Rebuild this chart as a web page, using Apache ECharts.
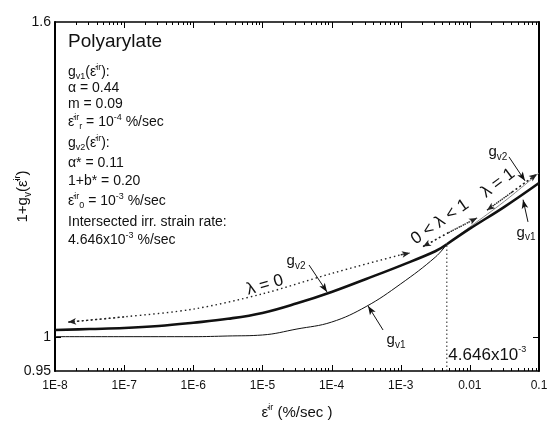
<!DOCTYPE html>
<html>
<head>
<meta charset="utf-8">
<script src="https://cdn.jsdelivr.net/npm/echarts@6/dist/echarts.min.js"></script>
<style>
  html, body { margin: 0; padding: 0; background: #fff; }
  #chart { width: 551px; height: 423px; }
</style>
</head>
<body>
<div id="chart"></div>
<script>
var FONT = '"Liberation Sans", Arial, sans-serif';

// axis ticks
var xDecades = [1e-8, 1e-7, 1e-6, 1e-5, 1e-4, 1e-3, 1e-2, 1e-1];
var xTickLabels = ['1E-8', '1E-7', '1E-6', '1E-5', '1E-4', '1E-3', '0.01', '0.1'];
var yTickValues = [0.95, 1, 1.6];
var yTickLabels = ['0.95', '1', '1.6'];
var yInnerTicks = [1];

// intersection of the two curves
var xCross = 4.646e-3;
var yCross = 1.148;

// g_v2, below the intersection (thick)
var gv2LowX = [1e-8, 3.16e-8, 1e-7, 3.16e-7, 1e-6, 3.16e-6, 1e-5, 3.16e-5, 1e-4, 3.16e-4, 1e-3, 3.16e-3, 4.646e-3];
var gv2LowY = [1.010, 1.0115, 1.013, 1.016, 1.021, 1.027, 1.036, 1.051, 1.069, 1.090, 1.112, 1.136, 1.148];
// g_v2, above the intersection (thin)
var gv2HighX = [4.646e-3, 1e-2, 3.16e-2, 1e-1];
var gv2HighY = [1.148, 1.178, 1.224, 1.277];

// g_v1, below the intersection (thin)
var gv1LowX = [1e-8, 1e-7, 1e-6, 3.16e-6, 1e-5, 3.16e-5, 1e-4, 3.16e-4, 1e-3, 3.16e-3, 4.646e-3];
var gv1LowY = [1.000, 1.000, 1.000, 1.001, 1.0025, 1.0115, 1.022, 1.046, 1.082, 1.126, 1.148];
// g_v1, above the intersection (thick)
var gv1HighX = [4.646e-3, 1e-2, 3.16e-2, 1e-1];
var gv1HighY = [1.148, 1.175, 1.214, 1.258];

// dotted lambda bands
var lam0X = [1.55e-8, 1e-7, 1e-6, 1e-5, 1e-4, 1e-3, 1.36e-3];
var lam0Y = [1.022, 1.030, 1.042, 1.066, 1.099, 1.130, 1.133];
var lam01X = [2.1e-3, 4.9e-3, 1.27e-2];
var lam01Y = [1.144, 1.168, 1.194];
var lam1X = [1.77e-2, 4.07e-2, 9.35e-2];
var lam1Y = [1.208, 1.241, 1.275];

function zip(xs, ys) {
    return xs.map(function (x, i) { return [x, ys[i]]; });
}

// log minor tick values 2..9 in each decade
var minorVals = [];
for (var d = -8; d <= -2; d++) {
    for (var k = 2; k <= 9; k++) minorVals.push(k * Math.pow(10, d));
}

var rich = {
    b: { fontSize: 14, fontFamily: FONT, color: '#111', lineHeight: 18 },
    sub: { fontSize: 9, fontFamily: FONT, color: '#111', lineHeight: 9, verticalAlign: 'bottom' },
    sup: { fontSize: 9, fontFamily: FONT, color: '#111', lineHeight: 9, verticalAlign: 'top' },
    big: { fontSize: 15, fontFamily: FONT, color: '#111', lineHeight: 20 },
    lam: { fontSize: 17, fontFamily: FONT, color: '#111', lineHeight: 20 },
    bsub: { fontSize: 10, fontFamily: FONT, color: '#111', lineHeight: 10, verticalAlign: 'bottom' }
};

function txt(x, y, text) {
    return {
        type: 'text', x: x, y: y, silent: true,
        style: { text: text, rich: rich, verticalAlign: 'middle', fill: '#111' }
    };
}

function arrow(a, b, dotted) {
    return [
        { coord: a, symbol: 'none' },
        { coord: b, symbol: 'arrow', symbolSize: dotted ? [5, 8] : [5, 9] }
    ];
}

function tag(coord, text, rotate) {
    return {
        coord: coord, symbol: 'circle', symbolSize: 1,
        itemStyle: { color: 'rgba(0,0,0,0)' },
        label: { show: true, position: 'inside', rotate: rotate || 0, formatter: text, rich: rich }
    };
}

function frameAxis(type, pos, min, max, lineW) {
    return {
        type: type, position: pos, min: min, max: max,
        axisLine: { onZero: false, lineStyle: { color: '#000', width: lineW } },
        axisTick: { show: false },
        axisLabel: { show: false },
        splitLine: { show: false }
    };
}

var dottedStyle = { color: '#222', width: 1.4, type: [1.5, 3] };
var GRID = { left: 55, right: 12, top: 22, bottom: 52 };
var W = 551, H = 423;

var chart = echarts.init(document.getElementById('chart'));

chart.setOption({
    animation: false,
    backgroundColor: '#fff',
    textStyle: { fontFamily: FONT },
    grid: { left: GRID.left, right: GRID.right, top: GRID.top, bottom: GRID.bottom, outerBoundsMode: 'none' },
    xAxis: [
        {
            type: 'log', min: 1e-8, max: 0.1, position: 'bottom',
            axisLine: { onZero: false, lineStyle: { color: '#000', width: 1.5 } },
            axisTick: { show: false },
            axisLabel: {
                customValues: xDecades, fontSize: 12, color: '#111', margin: 9,
                formatter: function (v) {
                    for (var i = 0; i < xDecades.length; i++) {
                        if (Math.abs(Math.log10(v) - Math.log10(xDecades[i])) < 1e-6) return xTickLabels[i];
                    }
                    return '';
                }
            },
            splitLine: { show: false },
            name: '{big|ε̇}{sup|ir}{big| (%/sec )}',
            nameLocation: 'middle', nameGap: 32, nameMoveOverlap: false,
            nameTextStyle: { rich: rich }
        },
        frameAxis('log', 'top', 1e-8, 0.1, 1.5)
    ],
    yAxis: [
        {
            type: 'log', min: 0.95, max: 1.6, position: 'left',
            axisLine: { onZero: false, lineStyle: { color: '#000', width: 2 } },
            axisTick: { show: false },
            axisLabel: {
                customValues: yTickValues, fontSize: 14, color: '#111', margin: 4,
                formatter: function (v) {
                    for (var i = 0; i < yTickValues.length; i++) {
                        if (Math.abs(v - yTickValues[i]) < 1e-6) return yTickLabels[i];
                    }
                    return '';
                }
            },
            splitLine: { show: false },
            name: '{big|1+g}{bsub|v}{big|(ε̇}{sup|ir}{big|)}',
            nameLocation: 'middle', nameGap: 22, nameRotate: 90, nameMoveOverlap: false,
            nameTextStyle: { rich: rich }
        },
        frameAxis('log', 'right', 0.95, 1.6, 2)
    ],
    series: [
        {
            name: 'gv2 low', type: 'line',
            data: zip(gv2LowX, gv2LowY), smooth: 0.4, symbol: 'none',
            lineStyle: { color: '#111', width: 2.6 }
        },
        {
            name: 'gv2 high', type: 'line',
            data: zip(gv2HighX, gv2HighY), smooth: 0.4, symbol: 'none',
            lineStyle: { color: '#888', width: 1 }
        },
        {
            name: 'gv1 low', type: 'line',
            data: zip(gv1LowX, gv1LowY), smooth: 0.4, symbol: 'none',
            lineStyle: { color: '#111', width: 1 }
        },
        {
            name: 'gv1 high', type: 'line',
            data: zip(gv1HighX, gv1HighY), smooth: 0.4, symbol: 'none',
            lineStyle: { color: '#111', width: 2.6 },
            markLine: {
                silent: true, label: { show: false },
                lineStyle: { color: '#111', width: 1, type: 'solid' },
                data: [
                    arrow([4.72e-5, 1.113], [8.6e-5, 1.069]),
                    arrow([5.55e-4, 1.010], [3.37e-4, 1.047]),
                    arrow([3.68e-2, 1.308], [6.28e-2, 1.262]),
                    arrow([6.93e-2, 1.187], [5.88e-2, 1.227])
                ]
            },
            markPoint: {
                silent: true,
                data: [
                    tag([3.06e-5, 1.120], '{big|g}{bsub|v2}'),
                    tag([8.55e-4, 0.995], '{big|g}{bsub|v1}'),
                    tag([2.55e-2, 1.318], '{big|g}{bsub|v2}'),
                    tag([6.49e-2, 1.168], '{big|g}{bsub|v1}'),
                    tag([1.09e-5, 1.080], '{lam|λ = 0}', 16),
                    tag([3.7e-3, 1.187], '{lam|0 < λ < 1}', 35),
                    tag([2.55e-2, 1.258], '{lam|λ = 1}', 37)
                ]
            }
        },
        {
            name: 'lambda 0', type: 'line',
            data: zip(lam0X, lam0Y), smooth: 0.3, symbol: 'none',
            lineStyle: dottedStyle,
            markLine: {
                silent: true, label: { show: false }, lineStyle: dottedStyle,
                data: [
                    arrow([lam0X[1], lam0Y[1]], [lam0X[0], lam0Y[0]], true),
                    arrow([lam0X[5], lam0Y[5]], [lam0X[6], lam0Y[6]], true)
                ]
            }
        },
        {
            name: 'lambda 01', type: 'line',
            data: zip(lam01X, lam01Y), smooth: 0.3, symbol: 'none',
            lineStyle: dottedStyle,
            markLine: {
                silent: true, label: { show: false }, lineStyle: dottedStyle,
                data: [
                    arrow([lam01X[1], lam01Y[1]], [lam01X[0], lam01Y[0]], true),
                    arrow([lam01X[1], lam01Y[1]], [lam01X[2], lam01Y[2]], true)
                ]
            }
        },
        {
            name: 'lambda 1', type: 'line',
            data: zip(lam1X, lam1Y), smooth: 0.3, symbol: 'none',
            lineStyle: dottedStyle,
            markLine: {
                silent: true, label: { show: false }, lineStyle: dottedStyle,
                data: [
                    arrow([lam1X[1], lam1Y[1]], [lam1X[0], lam1Y[0]], true),
                    arrow([lam1X[1], lam1Y[1]], [lam1X[2], lam1Y[2]], true)
                ]
            }
        },
        {
            name: 'cross', type: 'line',
            data: [[xCross, 0.95], [xCross, yCross]], symbol: 'none',
            lineStyle: { color: '#222', width: 1, type: [1.5, 2.5] },
            markPoint: {
                silent: true,
                data: [{
                    coord: [xCross, 0.973], symbol: 'circle', symbolSize: 1,
                    itemStyle: { color: 'rgba(0,0,0,0)' },
                    label: {
                        show: true, position: 'right', distance: 1,
                        formatter: '{lam|4.646x10}{sup|-3}', rich: rich
                    }
                }]
            }
        }
    ]
});

var texts = [
    {
        type: 'text', x: 68, y: 42, silent: true,
        style: { text: 'Polyarylate', font: '19px ' + FONT, fill: '#111', verticalAlign: 'middle' }
    },
    txt(68, 72, '{b|g}{sub|v1}{b|(ε̇}{sup|ir}{b|):}'),
    txt(68, 88, '{b|α = 0.44}'),
    txt(68, 104, '{b|m = 0.09}'),
    txt(68, 122, '{b|ε̇}{sup|ir}{sub|r}{b| = 10}{sup|-4}{b| %/sec}'),
    txt(68, 143, '{b|g}{sub|v2}{b|(ε̇}{sup|ir}{b|):}'),
    txt(68, 163, '{b|α* = 0.11}'),
    txt(68, 181, '{b|1+b* = 0.20}'),
    txt(68, 201, '{b|ε̇}{sup|ir}{sub|0}{b| = 10}{sup|-3}{b| %/sec}'),
    txt(68, 222, '{b|Intersected irr. strain rate:}'),
    txt(68, 240, '{b|4.646x10}{sup|-3}{b| %/sec}')
];

// pixel of a data point through the chart's scales; falls back to the grid's log mapping
function toPx(x, y) {
    var p = null;
    try { p = chart.convertToPixel({ gridIndex: 0 }, [x, y]); } catch (e) { p = null; }
    if (p && isFinite(p[0]) && isFinite(p[1])) return p;
    var x0 = GRID.left, x1 = W - GRID.right, y0 = H - GRID.bottom, y1 = GRID.top;
    var fx = (Math.log10(x) + 8) / 7;
    var fy = (Math.log10(y) - Math.log10(0.95)) / (Math.log10(1.6) - Math.log10(0.95));
    return [x0 + fx * (x1 - x0), y0 + fy * (y1 - y0)];
}

function tickLine(x1, y1, x2, y2) {
    return {
        type: 'line', silent: true, z: 100,
        shape: { x1: x1, y1: y1, x2: x2, y2: y2 },
        style: { stroke: '#000', lineWidth: 1 }
    };
}

var corner0 = toPx(1e-8, 0.95), corner1 = toPx(0.1, 1.6);
var yBottom = corner0[1], yTop = corner1[1], xLeft = corner0[0], xRight = corner1[0];

var ticks = [];
xDecades.forEach(function (v) {
    var px = Math.round(toPx(v, 1)[0]) + 0.5;
    ticks.push(tickLine(px, yBottom, px, yBottom - 6));
    ticks.push(tickLine(px, yTop, px, yTop + 6));
});
minorVals.forEach(function (v) {
    var px = Math.round(toPx(v, 1)[0]) + 0.5;
    ticks.push(tickLine(px, yBottom, px, yBottom - 3));
    ticks.push(tickLine(px, yTop, px, yTop + 3));
});
yInnerTicks.forEach(function (v) {
    var py = Math.round(toPx(1e-3, v)[1]) + 0.5;
    ticks.push(tickLine(xLeft, py, xLeft + 6, py));
    ticks.push(tickLine(xRight, py, xRight - 6, py));
});

chart.setOption({ graphic: { elements: texts.concat(ticks) } });
</script>
</body>
</html>
